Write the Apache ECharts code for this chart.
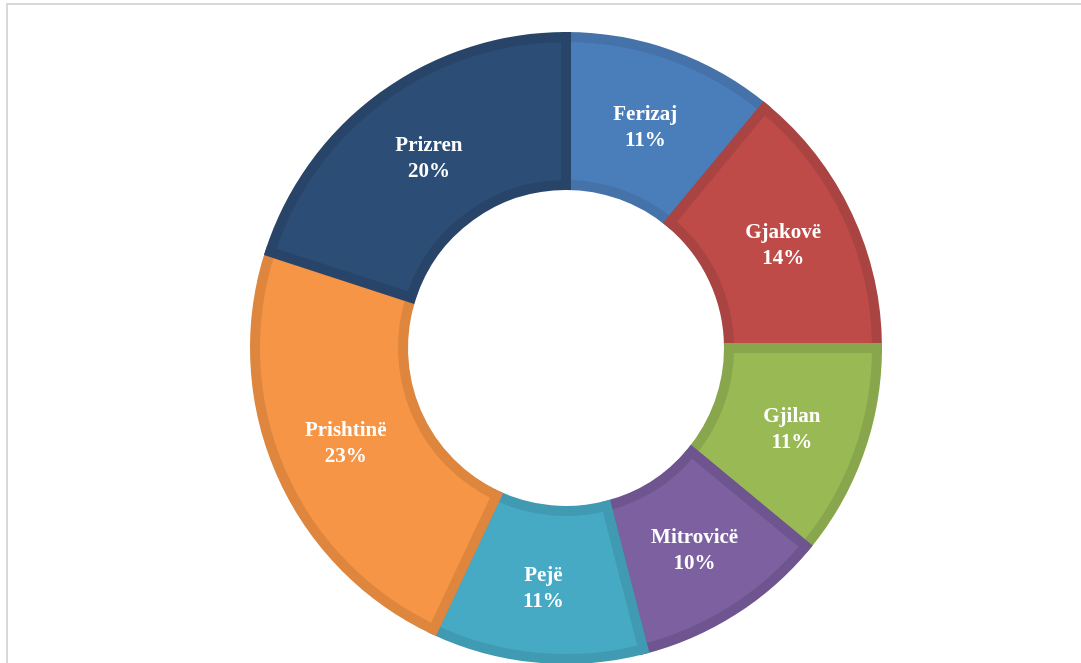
<!DOCTYPE html>
<html>
<head>
<meta charset="utf-8">
<script src="https://cdn.jsdelivr.net/npm/echarts@6/dist/echarts.min.js"></script>
<style>
html,body{margin:0;padding:0;background:#fff;overflow:hidden;}
#frame{position:absolute;left:6px;top:3px;width:1200px;height:800px;border-top:2px solid #d9d9d9;border-left:2px solid #d9d9d9;}
#main{position:absolute;left:0;top:0;width:1081px;height:663px;}
</style>
</head>
<body>
<div id="frame"></div>
<div id="main"></div>
<script>
// qytetet dhe perqindjet
var cities = ['Ferizaj', 'Gjakovë', 'Gjilan', 'Mitrovicë', 'Pejë', 'Prishtinë', 'Prizren'];
var shares = [11, 14, 11, 10, 11, 23, 20];
var fills = ['#4a7ebb', '#be4b48', '#98b954', '#7d60a0', '#46aac5', '#f69545', '#2c4d75'];
var edges = ['#4472a9', '#a94442', '#88a64b', '#6f558f', '#3f9ab2', '#de863e', '#284569'];
// label shifts (Excel places the two top labels a bit lower)
var shifts = [[-2, 5], [0, 0], [0, 0], [0, 0], [0, 2], [0, 0], [4, 5]];

var myChart = echarts.init(document.getElementById('main'));
var pieData = [];
for (var i = 0; i < cities.length; i++) {
	pieData.push({
		name: cities[i],
		value: shares[i],
		itemStyle: {color: fills[i], borderColor: edges[i], borderWidth: 10, borderJoin: 'miter', borderMiterLimit: 10},
		label: {offset: shifts[i]}
	});
}
var option = {
	animation: false,
	series: [{
		type: 'pie',
		center: [566, 348],
		radius: [163, 311],
		startAngle: 90,
		clockwise: true,
		label: {
			show: true,
			position: 'inside',
			color: '#fff',
			fontFamily: 'Liberation Serif',
			fontWeight: 'bold',
			fontSize: 21,
			lineHeight: 26,
			formatter: function (p) { return p.name + '\n' + p.value + '%'; }
		},
		labelLine: {show: false},
		emphasis: {disabled: true},
		data: pieData
	}]
};
myChart.setOption(option, true);
</script>
</body>
</html>
